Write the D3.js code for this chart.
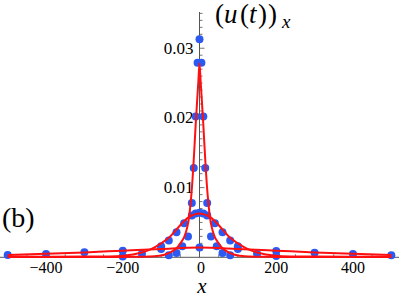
<!DOCTYPE html>
<html>
<head>
<meta charset="utf-8">
<script src="https://cdn.jsdelivr.net/npm/d3@7/dist/d3.min.js"></script>
<style>
  html, body { margin: 0; padding: 0; background: #fff; }
  svg { display: block; }
  svg text { font-family: "Liberation Serif", "Tinos", "Noto Serif", "DejaVu Serif", "Times New Roman", Times, serif; }
</style>
</head>
<body>
<svg id="chart" width="399" height="298"></svg>
<script>
// ---- data ----
const xTickMajor = [-400, -200, 0, 200, 400];
const xTickLabels = ["\u2212400", "\u2212200", "0", "200", "400"];
const yTickMajor = [0.01, 0.02, 0.03];
const yTickLabels = ["0.01", "0.02", "0.03"];

// narrow peak (blue samples)
const narrowDotX = [-80, -60, -45, -30, -20, -15, -10, -5, 0, 5, 10, 15, 20, 30, 45, 60, 80];
const narrowDotY = [0.0003, 0.0006, 0.0016, 0.0030, 0.0078, 0.0128, 0.0202, 0.0279, 0.0313,
                    0.0279, 0.0202, 0.0128, 0.0078, 0.0030, 0.0016, 0.0006, 0.0003];
// medium width (blue samples)
const mediumDotX = [-200, -150, -100, -80, -60, -40, -20, -10, 0, 10, 20, 40, 60, 80, 100, 150, 200];
const mediumDotY = [0.0001, 0.0005, 0.0016, 0.0024, 0.0036, 0.0049, 0.0060, 0.0063, 0.0064,
                    0.0063, 0.0060, 0.0049, 0.0036, 0.0024, 0.0016, 0.0005, 0.0002];
// wide (blue samples)
const wideDotX = [-500, -400, -300, -200, -100, 0, 100, 200, 300, 400, 500];
const wideDotY = [0.00033, 0.00047, 0.00072, 0.00095, 0.0012, 0.0014, 0.0012, 0.0009, 0.00066, 0.00047, 0.00029];

// red curves
const narrowCurveX = [-500, -200, -130, -100, -80, -60, -50, -40, -30, -25, -20, -15, -10, -6, -3, 0,
                      3, 6, 10, 15, 20, 25, 30, 40, 50, 60, 80, 100, 130, 200, 500];
const narrowCurveY = [0.00005, 0.00006, 0.0001, 0.00025, 0.0006, 0.0013, 0.0020, 0.0029, 0.0048, 0.0068,
                      0.0098, 0.0140, 0.0190, 0.0226, 0.0252, 0.0278,
                      0.0252, 0.0226, 0.0190, 0.0140, 0.0098, 0.0068, 0.0048, 0.0029, 0.0020, 0.0013,
                      0.0006, 0.00025, 0.0001, 0.00006, 0.00005];
const mediumCurveX = [-500, -300, -250, -200, -150, -125, -100, -80, -60, -40, -30, -20, -10, 0,
                      10, 20, 30, 40, 60, 80, 100, 125, 150, 200, 250, 300, 500];
const mediumCurveY = [0.0001, 0.0001, 0.00012, 0.00022, 0.0007, 0.0012, 0.0020, 0.0028, 0.0040,
                      0.0052, 0.0057, 0.0060, 0.0062, 0.0063,
                      0.0062, 0.0060, 0.0057, 0.0052, 0.0040, 0.0028, 0.0020, 0.0012, 0.0007,
                      0.00022, 0.00012, 0.0001, 0.0001];
const wideCurveX = [-500, -400, -300, -200, -100, 0, 100, 200, 300, 400, 500];
const wideCurveY = [0.00032, 0.0005, 0.0007, 0.00095, 0.0012, 0.0014, 0.0012, 0.00095, 0.0007, 0.0005, 0.00032];

// ---- layout ----
const svg = d3.select("#chart");
const x = d3.scaleLinear().domain([-520, 520]).range([0, 399]);
const y = d3.scaleLinear().domain([0, 0.0352]).range([257.3, 12]);

const axisColor = "#555";
const red = "#ff1010";
const blue = "#2b59f2";

// axes lines
svg.append("line").attr("x1", 0).attr("x2", 399).attr("y1", y(0)).attr("y2", y(0))
  .attr("stroke", axisColor).attr("stroke-width", 1);
svg.append("line").attr("x1", x(0)).attr("x2", x(0)).attr("y1", y(0)).attr("y2", y(0.0352))
  .attr("stroke", axisColor).attr("stroke-width", 1);

// x ticks (minor every 50, major at labelled values)
const xMinor = d3.range(-500, 501, 50);
svg.append("g").selectAll("line").data(xMinor).join("line")
  .attr("x1", d => x(d)).attr("x2", d => x(d))
  .attr("y1", y(0)).attr("y2", d => y(0) - (d % 200 === 0 ? 5 : 3))
  .attr("stroke", axisColor).attr("stroke-width", 0.8);

// y ticks (minor every 0.001)
const yMinor = d3.range(1, 36).map(i => i / 1000);
svg.append("g").selectAll("line").data(yMinor).join("line")
  .attr("x1", x(0)).attr("x2", (d, i) => x(0) + ((i + 1) % 10 === 0 ? 5 : 3))
  .attr("y1", d => y(d)).attr("y2", d => y(d))
  .attr("stroke", axisColor).attr("stroke-width", 0.8);

// tick labels
svg.append("g").selectAll("text").data(xTickMajor).join("text")
  .attr("x", d => x(d) + (d === 0 ? 1.5 : 0)).attr("y", 272.5)
  .attr("text-anchor", "middle").attr("font-size", 16)
  .text((d, i) => xTickLabels[i]);
svg.append("g").selectAll("text").data(yTickMajor).join("text")
  .attr("x", 193.5).attr("y", d => y(d) + 5.5)
  .attr("text-anchor", "end").attr("font-size", 17)
  .text((d, i) => yTickLabels[i]);

// dots
function dots(xs, ys) {
  svg.append("g").selectAll("circle").data(xs).join("circle")
    .attr("cx", d => x(d)).attr("cy", (d, i) => y(ys[i])).attr("r", 4)
    .attr("fill", blue);
}
dots(wideDotX, wideDotY);
dots(mediumDotX, mediumDotY);
dots(narrowDotX, narrowDotY);

// curves
const line = d3.line().x(d => x(d[0])).y(d => y(d[1])).curve(d3.curveCatmullRom.alpha(0.5));
function curve(xs, ys) {
  svg.append("path").datum(xs.map((v, i) => [v, ys[i]]))
    .attr("d", line).attr("fill", "none").attr("stroke", red)
    .attr("stroke-width", 2).attr("stroke-linejoin", "round");
}
curve(wideCurveX, wideCurveY);
curve(mediumCurveX, mediumCurveY);
curve(narrowCurveX, narrowCurveY);

// labels
svg.append("text").attr("x", 2).attr("y", 227).attr("font-size", 28).text("(b)");

// (u(t))_x, glyphs placed to match the wide math typesetting
const titleParts = [
  { s: "(", x: 215, it: false },
  { s: "u", x: 224, it: true },
  { s: "(", x: 240, it: false },
  { s: "t", x: 249, it: true },
  { s: ")", x: 258, it: false },
  { s: ")", x: 268, it: false }
];
svg.append("g").selectAll("text").data(titleParts).join("text")
  .attr("font-size", 27)
  .attr("x", d => d.x).attr("y", 23)
  .attr("font-style", d => d.it ? "italic" : "normal")
  .text(d => d.s);
svg.append("text").attr("x", 282).attr("y", 28)
  .attr("font-size", 19).attr("font-style", "italic").text("x");

svg.append("text").attr("x", 202).attr("y", 292.5)
  .attr("font-size", 21).attr("text-anchor", "middle").attr("font-style", "italic").text("x");
</script>
</body>
</html>
